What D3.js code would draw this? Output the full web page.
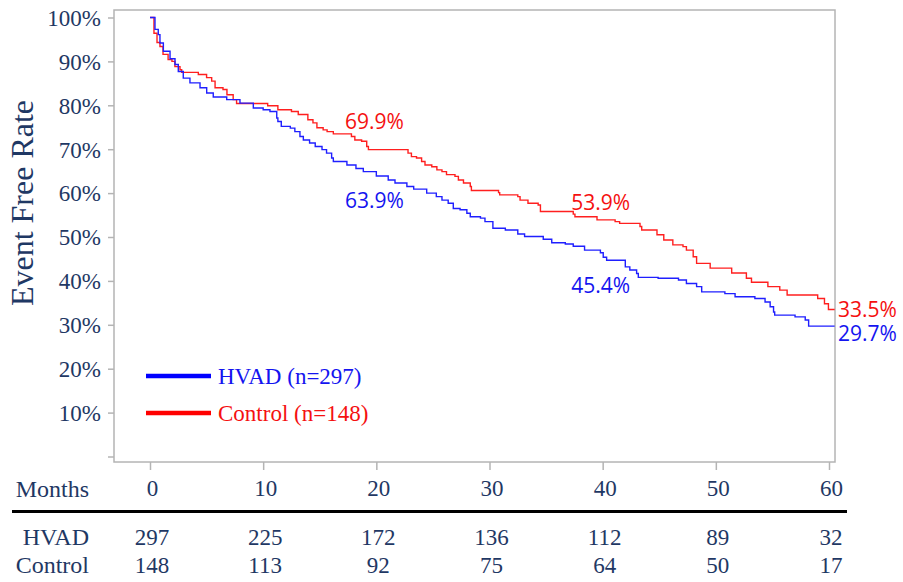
<!DOCTYPE html>
<html>
<head>
<meta charset="utf-8">
<script src="https://cdn.jsdelivr.net/npm/d3@7"></script>
<style>
  body { margin: 0; background: #fff; }
  svg text { font-family: "Liberation Serif", "Times New Roman", serif; }
  .navy { fill: #1f3864; }
  .anno { font-family: "Open Sans", "Noto Sans", sans-serif !important; font-size: 21px; }
</style>
</head>
<body>
<div id="chart"></div>
<script>
// Kaplan-Meier step points: [month, event free %]
const hvadCurve = [
    [0, 100], [0.44, 97.3], [0.73, 96.1], [0.88, 94.2], [1.18, 92.3], [1.77, 90.6], [2.21, 89.3],
    [2.5, 87.7], [2.94, 86.2], [3.53, 85.1], [4.42, 84.0], [5.01, 82.8], [5.59, 81.9], [6.78, 81.3],
    [7.95, 80.5], [9.13, 79.4], [10.0, 79.0], [10.6, 78.6], [11.2, 77.1], [11.3, 76.3], [11.6, 75.2],
    [12.4, 74.8], [12.8, 74.0], [13.25, 72.9], [13.55, 72.1], [14.1, 71.4], [14.6, 70.6], [15.2, 69.9],
    [15.6, 69.1], [16.05, 68.0], [16.2, 67.2], [17.4, 66.4], [18.2, 65.6], [18.85, 64.9], [20.0, 63.9],
    [21.05, 63.0], [21.65, 62.3], [22.7, 61.5], [23.3, 60.9], [24.45, 60.0], [25.3, 59.2], [25.8, 58.4],
    [26.35, 57.7], [26.8, 56.5], [27.4, 56.2], [28.0, 55.4], [28.3, 54.6], [29.2, 54.3], [29.6, 53.5],
    [30.3, 52.0], [31.4, 51.6], [32.5, 50.7], [33.1, 50.1], [34.75, 49.5], [35.5, 48.7], [36.7, 48.4],
    [37.4, 47.9], [38.4, 47.0], [39.8, 46.4], [40.05, 45.4], [40.35, 44.7], [42.0, 43.2], [42.4, 42.5],
    [43.0, 41.7], [43.15, 40.8], [44.9, 40.6], [46.7, 40.2], [47.4, 39.4], [48.3, 38.7], [48.75, 37.5],
    [50.8, 37.1], [51.7, 36.4], [53.45, 36.0], [54.35, 35.2], [54.8, 34.1], [55.1, 32.9], [55.2, 32.2],
    [57.0, 31.8], [57.9, 31.1], [58.2, 29.7], [60.5, 29.7]
];

const controlCurve = [
    [0, 100], [0.35, 96.4], [0.62, 94.3], [0.88, 93.4], [1.15, 91.6], [1.6, 90.4], [1.94, 90.0],
    [2.2, 88.8], [2.65, 88.1], [2.8, 87.5], [4.27, 87.0], [5.0, 86.3], [5.45, 85.5], [5.75, 84.0],
    [6.45, 83.6], [6.8, 82.4], [7.35, 81.3], [7.65, 80.4], [10.4, 79.9], [11.3, 79.0], [12.5, 78.6],
    [13.1, 77.9], [13.95, 76.7], [14.4, 76.0], [14.75, 74.9], [15.3, 74.4], [15.65, 74.0], [16.2, 73.5],
    [17.8, 72.9], [18.1, 72.1], [18.7, 71.8], [19.15, 70.6], [19.3, 69.9], [22.8, 69.1], [23.1, 68.3],
    [23.55, 68.0], [24.0, 67.2], [24.3, 66.4], [24.9, 66.0], [25.35, 65.3], [25.8, 64.9], [26.2, 64.2],
    [26.95, 63.8], [27.25, 63.0], [27.7, 62.3], [28.3, 61.5], [28.4, 60.6], [30.8, 60.1], [30.9, 59.6],
    [32.5, 59.2], [32.7, 58.4], [33.4, 57.7], [34.3, 57.3], [34.5, 55.8], [37.4, 55.2], [37.55, 54.6],
    [39.5, 53.9], [41.1, 53.5], [41.5, 53.1], [43.3, 52.4], [43.45, 51.6], [44.8, 50.5], [45.4, 49.3],
    [46.2, 48.2], [47.1, 47.8], [47.4, 47.0], [48.0, 45.5], [48.3, 44.0], [49.5, 42.9], [51.4, 41.8],
    [52.7, 40.6], [53.15, 39.7], [54.6, 38.7], [55.65, 37.9], [56.3, 36.8], [59.0, 36.0], [59.6, 34.8],
    [59.95, 33.5], [60.5, 33.5]
];

const yTicks = [0, 10, 20, 30, 40, 50, 60, 70, 80, 90, 100];
const monthTicks = [0, 10, 20, 30, 40, 50, 60];
const hvadAtRisk = [297, 225, 172, 136, 112, 89, 32];
const controlAtRisk = [148, 113, 92, 75, 64, 50, 17];

const seriesNames = ["HVAD (n=297)", "Control (n=148)"];
const riskRowNames = ["HVAD", "Control"];

// annotated rates: month, value, series
const annoMonths = [20, 20, 40, 40, 60, 60];
const annoValues = [69.9, 63.9, 53.9, 45.4, 33.5, 29.7];
const annoSeries = ["control", "hvad", "control", "hvad", "control", "hvad"];

const width = 903, height = 582;
const frame = { left: 114, right: 835, top: 10, bottom: 462 };
const colors = { hvad: "#1f1fff", control: "#ff1f1f" };
const textColors = { hvad: "#1414f0", control: "#f51010" };
const labelSize = "23px";

const svg = d3.select("#chart").append("svg")
    .attr("width", width)
    .attr("height", height);

const x = d3.scaleLinear().domain([0, 60]).range([150, 829]);
const y = d3.scaleLinear().domain([0, 100]).range([456.5, 17.5]);

// frame
svg.append("rect")
    .attr("x", frame.left)
    .attr("y", frame.top)
    .attr("width", frame.right - frame.left)
    .attr("height", frame.bottom - frame.top)
    .attr("fill", "none")
    .attr("stroke", "#b4b4b4")
    .attr("stroke-width", 1.5);

// y axis
const yAxis = svg.append("g")
    .attr("transform", `translate(${frame.left},0)`)
    .call(d3.axisLeft(y).tickValues(yTicks).tickSize(6).tickPadding(7)
        .tickFormat(d => d === 0 ? "" : d + "%"));
yAxis.select(".domain").remove();
yAxis.selectAll(".tick line").attr("stroke", "#b4b4b4").attr("stroke-width", 1.5);
yAxis.selectAll(".tick text")
    .attr("class", "navy")
    .style("font-size", labelSize)
    .style("font-family", "'Liberation Serif', 'Times New Roman', serif")
    .attr("dy", "0.34em");

// x axis
const xAxis = svg.append("g")
    .attr("transform", `translate(0,${frame.bottom})`)
    .call(d3.axisBottom(x).tickValues(monthTicks).tickSize(8).tickPadding(10));
xAxis.select(".domain").remove();
xAxis.selectAll(".tick line").attr("stroke", "#b4b4b4").attr("stroke-width", 1.5);
xAxis.selectAll(".tick text")
    .attr("class", "navy")
    .attr("dx", 2)
    .style("font-size", labelSize)
    .style("font-family", "'Liberation Serif', 'Times New Roman', serif");

svg.append("text")
    .attr("class", "navy")
    .attr("x", 89)
    .attr("y", 497)
    .attr("text-anchor", "end")
    .style("font-size", "24px")
    .text("Months");

// y title
svg.append("text")
    .attr("class", "navy")
    .attr("transform", "translate(33,203) rotate(-90)")
    .attr("text-anchor", "middle")
    .style("font-size", "32px")
    .text("Event Free Rate");

// curves
const line = d3.line()
    .x(d => x(d[0]))
    .y(d => y(d[1]))
    .curve(d3.curveStepAfter);

svg.append("path")
    .datum(controlCurve)
    .attr("d", line)
    .attr("fill", "none")
    .attr("stroke", colors.control)
    .attr("stroke-width", 1.4);

svg.append("path")
    .datum(hvadCurve)
    .attr("d", line)
    .attr("fill", "none")
    .attr("stroke", colors.hvad)
    .attr("stroke-width", 1.4);

// annotations
const annoOffsets = {
    20: { control: -21, hvad: 32 },
    40: { control: -10, hvad: 36 },
    60: { control: 8, hvad: 15 }
};
svg.selectAll("text.anno")
    .data(annoValues)
    .enter()
    .append("text")
    .attr("class", "anno")
    .attr("x", (d, i) => annoMonths[i] === 60 ? x(annoMonths[i]) + 9 : x(annoMonths[i]) - 2)
    .attr("y", (d, i) => y(d) + annoOffsets[annoMonths[i]][annoSeries[i]])
    .attr("text-anchor", (d, i) => annoMonths[i] === 60 ? "start" : "middle")
    .attr("fill", (d, i) => textColors[annoSeries[i]])
    .text(d => d.toFixed(1) + "%");

// legend
const legendKeys = ["hvad", "control"];
const legend = svg.selectAll("g.legend")
    .data(legendKeys)
    .enter()
    .append("g")
    .attr("class", "legend")
    .attr("transform", (d, i) => `translate(146,${376 + i * 37})`);

legend.append("line")
    .attr("x1", 0).attr("x2", 65)
    .attr("y1", 0).attr("y2", 0)
    .attr("stroke", d => d === "hvad" ? "#0000ff" : "#ff0000")
    .attr("stroke-width", 4.5);

legend.append("text")
    .attr("x", 72)
    .attr("y", 8)
    .attr("fill", d => textColors[d])
    .style("font-size", "23px")
    .text((d, i) => seriesNames[i]);

// risk table
svg.append("line")
    .attr("x1", 12).attr("x2", 847)
    .attr("y1", 511.5).attr("y2", 511.5)
    .attr("stroke", "#000")
    .attr("stroke-width", 3.2);

const riskRows = [hvadAtRisk, controlAtRisk];
riskRows.forEach((row, r) => {
    const rowY = 545 + r * 28;
    svg.append("text")
        .attr("class", "navy")
        .attr("x", 89)
        .attr("y", rowY)
        .attr("text-anchor", "end")
        .style("font-size", "24px")
        .text(riskRowNames[r]);

    svg.selectAll("text.risk" + r)
        .data(row)
        .enter()
        .append("text")
        .attr("class", "navy risk" + r)
        .attr("x", (d, i) => x(monthTicks[i]) + 2)
        .attr("y", rowY)
        .attr("text-anchor", "middle")
        .style("font-size", labelSize)
        .text(d => d);
});
</script>
</body>
</html>
